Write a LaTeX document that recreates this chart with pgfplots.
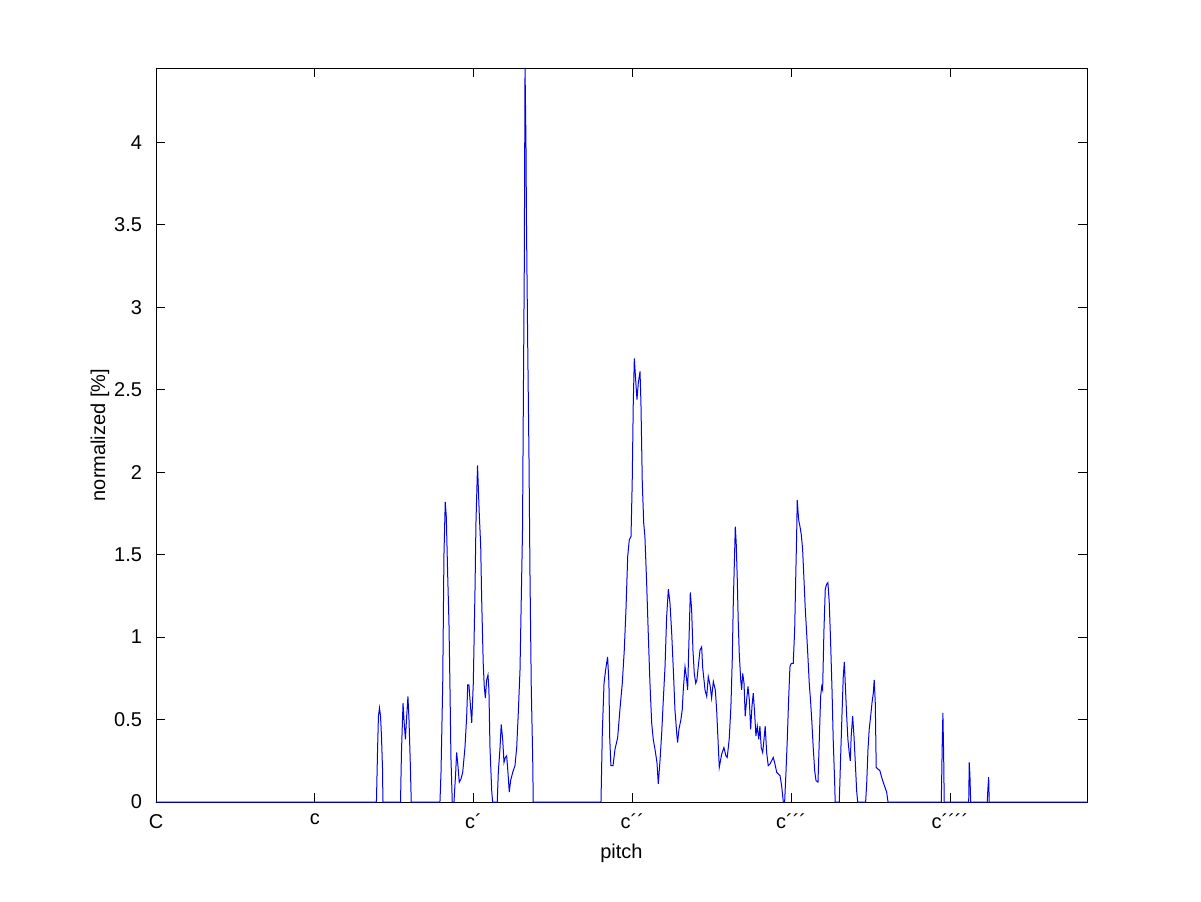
\documentclass[border=0pt]{standalone}
\usepackage{fontspec}
\setmainfont{Liberation Sans}
\usepackage{pgfplots}
\pgfplotsset{compat=1.18}
\definecolor{mblue}{RGB}{0,0,235}
\begin{document}
\begin{tikzpicture}
\useasboundingbox (0,0) rectangle (600.5pt,450.5pt);
\begin{axis}[
  at={(78pt,49.5pt)}, anchor=south west,
  scale only axis, width=465.5pt, height=367pt,
  xmin=0, xmax=70.36, ymin=0, ymax=4.45,
  xtick={0,12,24,36,48,60},
  xticklabels={C,c,c´,c´´,c´´´,c´´´´},
  ytick={0,0.5,1,1.5,2,2.5,3,3.5,4},
  yticklabels={0,0.5,1,1.5,2,2.5,3,3.5,4},
  tick align=inside, major tick length=4.5pt,
  tick style={black, line width=0.4pt},
  axis line style={black, line width=0.4pt},
  ticklabel style={font=\fontsize{10}{12}\selectfont},
  /pgf/number format/assume math mode=true,
  xticklabel style={yshift=-2.5pt},
  yticklabel style={xshift=-3.5pt},
  xlabel={pitch}, ylabel={normalized [\%]},
  label style={font=\fontsize{10}{12}\selectfont},
  xlabel style={yshift=-0.5pt},
  ylabel style={yshift=-4.5pt},
  clip=true,
]
\addplot[mblue, line width=0.5pt] coordinates {
(0,0)
(16.66,0)(16.74,0.30)(16.81,0.52)(16.89,0.57)(16.97,0.52)(17.04,0.40)(17.12,0.20)(17.15,0)
(18.48,0)(18.55,0.30)(18.67,0.60)(18.74,0.50)(18.85,0.38)(18.93,0.50)(19.04,0.64)(19.12,0.50)(19.23,0.20)(19.29,0)
(21.46,0)(21.54,0.18)(21.67,0.72)(21.76,1.49)(21.86,1.82)(21.94,1.73)(22.04,1.39)(22.14,1.09)(22.22,0.68)(22.29,0.27)(22.39,0)
(22.52,0)(22.65,0.18)(22.72,0.30)(22.82,0.22)(22.92,0.12)(23.05,0.14)(23.18,0.18)(23.35,0.33)(23.48,0.52)(23.56,0.71)(23.65,0.71)(23.73,0.62)(23.86,0.48)(23.98,0.72)(24.11,1.29)(24.18,1.69)(24.30,2.04)(24.43,1.75)(24.54,1.55)(24.61,1.24)(24.73,0.84)(24.81,0.70)(24.89,0.63)(24.99,0.74)(25.09,0.77)(25.16,0.68)(25.24,0.33)(25.37,0.07)(25.44,0)
(25.79,0)(25.87,0.18)(26.00,0.33)(26.09,0.47)(26.20,0.38)(26.30,0.24)(26.40,0.27)(26.50,0.28)(26.60,0.18)(26.70,0.06)(26.80,0.13)(26.96,0.18)(27.13,0.22)(27.26,0.33)(27.38,0.54)(27.51,0.80)(27.61,1.25)(27.70,1.65)(27.76,2.40)(27.83,3.20)(27.89,4.45)(27.96,4.00)(28.00,3.50)(28.09,2.79)(28.19,2.08)(28.26,1.41)(28.36,0.70)(28.47,0.26)(28.51,0)
(33.63,0)(33.73,0.42)(33.86,0.72)(33.98,0.80)(34.13,0.88)(34.23,0.72)(34.29,0.39)(34.38,0.22)(34.54,0.22)(34.69,0.32)(34.89,0.39)(35.06,0.56)(35.24,0.72)(35.39,0.92)(35.52,1.17)(35.65,1.49)(35.77,1.59)(35.90,1.61)(35.99,1.94)(36.07,2.42)(36.15,2.69)(36.25,2.56)(36.35,2.44)(36.45,2.54)(36.58,2.61)(36.65,2.42)(36.75,1.94)(36.86,1.69)(36.95,1.61)(37.08,1.33)(37.20,1.03)(37.33,0.72)(37.46,0.48)(37.58,0.38)(37.71,0.32)(37.86,0.24)(37.96,0.11)(38.09,0.25)(38.22,0.42)(38.34,0.62)(38.47,0.82)(38.59,1.12)(38.72,1.29)(38.84,1.21)(38.97,1.03)(39.12,0.76)(39.22,0.56)(39.35,0.42)(39.42,0.36)(39.52,0.44)(39.67,0.50)(39.77,0.56)(39.85,0.68)(39.98,0.82)(40.08,0.76)(40.18,0.68)(40.28,0.98)(40.38,1.27)(40.48,1.17)(40.58,0.92)(40.68,0.78)(40.79,0.72)(40.88,0.74)(40.98,0.82)(41.11,0.92)(41.24,0.94)(41.31,0.82)(41.44,0.72)(41.49,0.68)(41.62,0.64)(41.74,0.76)(41.87,0.71)(41.99,0.63)(42.12,0.73)(42.27,0.68)(42.37,0.56)(42.49,0.35)(42.57,0.21)(42.75,0.29)(42.92,0.33)(43.07,0.28)(43.17,0.27)(43.32,0.38)(43.45,0.58)(43.55,0.86)(43.63,1.21)(43.73,1.51)(43.78,1.67)(43.85,1.57)(43.93,1.35)(44.00,1.10)(44.08,0.90)(44.19,0.74)(44.26,0.68)(44.34,0.78)(44.44,0.72)(44.53,0.52)(44.64,0.62)(44.74,0.70)(44.84,0.62)(44.94,0.44)(45.04,0.58)(45.14,0.66)(45.24,0.54)(45.34,0.40)(45.44,0.46)(45.55,0.38)(45.64,0.46)(45.74,0.33)(45.85,0.30)(45.95,0.38)(46.04,0.46)(46.15,0.30)(46.27,0.22)(46.40,0.23)(46.53,0.25)(46.65,0.27)(46.78,0.23)(46.91,0.18)(47.03,0.17)(47.16,0.16)(47.28,0.10)(47.41,0)
(47.51,0)(47.61,0.18)(47.71,0.38)(47.81,0.62)(47.91,0.82)(48.01,0.84)(48.16,0.84)(48.27,1.05)(48.34,1.33)(48.42,1.63)(48.46,1.83)(48.57,1.71)(48.67,1.67)(48.77,1.62)(48.87,1.53)(48.97,1.35)(49.07,1.17)(49.17,1.03)(49.27,0.88)(49.37,0.72)(49.48,0.60)(49.57,0.48)(49.67,0.33)(49.78,0.19)(49.88,0.13)(50.03,0.12)(50.13,0.38)(50.23,0.64)(50.31,0.70)(50.38,0.68)(50.48,1.04)(50.58,1.29)(50.68,1.32)(50.78,1.33)(50.88,1.21)(50.98,0.98)(51.09,0.68)(51.18,0.38)(51.29,0.12)(51.33,0)
(51.64,0)(51.74,0.27)(51.84,0.52)(51.94,0.76)(52.02,0.85)(52.09,0.72)(52.20,0.52)(52.29,0.38)(52.39,0.30)(52.47,0.25)(52.54,0.40)(52.65,0.52)(52.75,0.40)(52.85,0.24)(52.95,0.07)(53.03,0)
(53.63,0)(53.71,0.11)(53.81,0.32)(53.90,0.44)(54.01,0.52)(54.11,0.60)(54.21,0.66)(54.28,0.74)(54.36,0.60)(54.43,0.21)(54.56,0.20)(54.71,0.19)(54.84,0.15)(54.96,0.12)(55.09,0.09)(55.22,0.06)(55.32,0)
(59.35,0)(59.42,0.35)(59.47,0.54)(59.53,0.27)(59.57,0)
(61.42,0)(61.46,0.24)(61.51,0.17)(61.57,0)
(62.82,0)(62.87,0.08)(62.93,0.15)(62.97,0)
(70.36,0)
};
\end{axis}
\end{tikzpicture}
\end{document}
